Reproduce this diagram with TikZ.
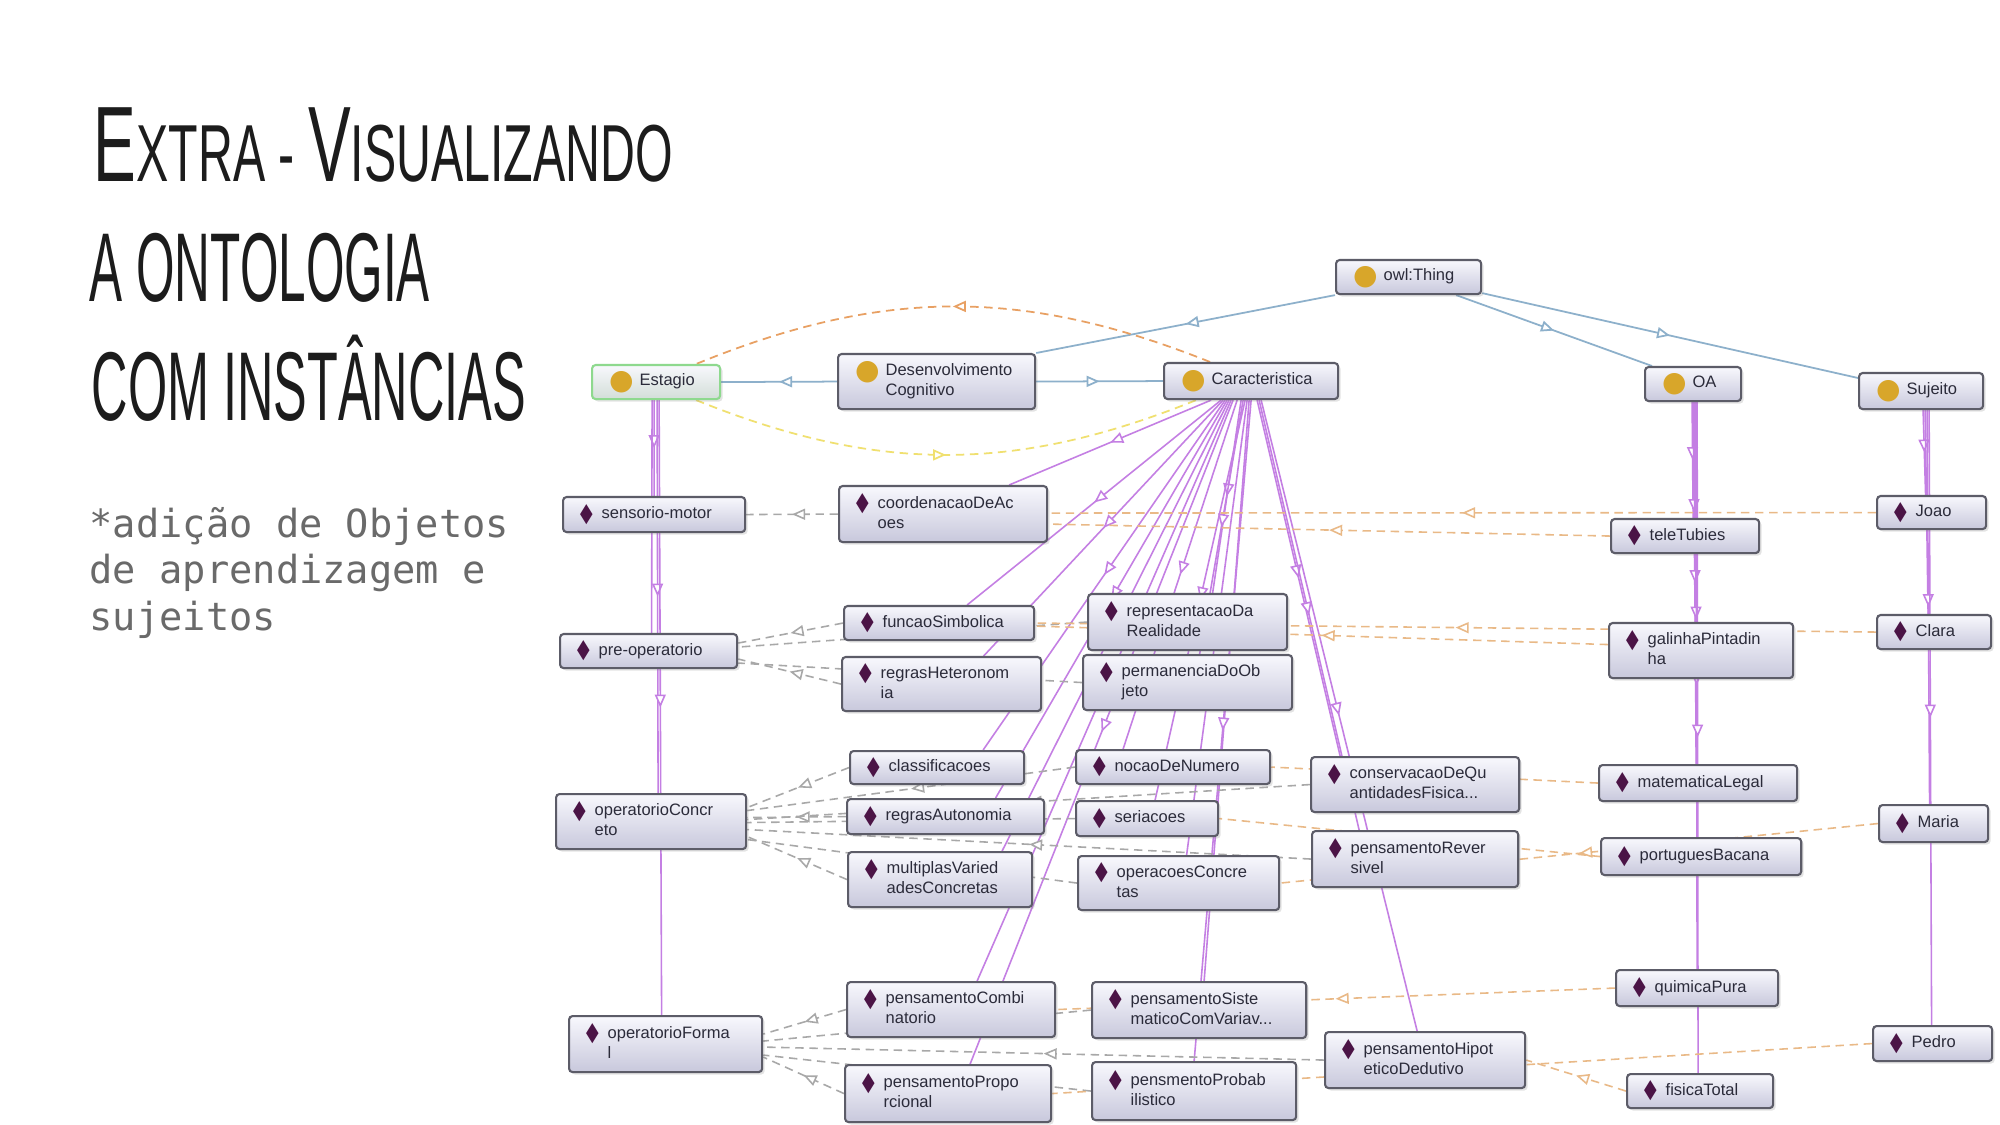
\documentclass[tikz,border=0pt]{standalone}
\usepackage{fontspec}
\usepackage{graphicx}
\usepackage{xcolor}
\usepackage{tikz}
\usetikzlibrary{arrows.meta,calc,decorations.markings,shadows,backgrounds}
\newfontfamily\nodefont{Liberation Sans}
\newfontfamily\symfont{DejaVu Sans}
\newfontfamily\titlefont{Liberation Sans}
\newfontfamily\subfont{DejaVu Sans Mono}
\definecolor{boxline}{HTML}{5C5C68}
\definecolor{boxtop}{HTML}{F8F8FD}
\definecolor{boxbot}{HTML}{C8C8DC}
\definecolor{stagegreen}{HTML}{8ED98E}
\definecolor{stagebot}{HTML}{D3DED8}
\definecolor{nodetext}{HTML}{2B2B3A}
\definecolor{clsdot}{HTML}{D8A62A}
\definecolor{inddia}{HTML}{4B1446}
\definecolor{isablue}{HTML}{8DB0CB}
\definecolor{indpurple}{HTML}{C47FE3}
\definecolor{propgray}{HTML}{A8A8A8}
\definecolor{proporange}{HTML}{E9B987}
\definecolor{rangeorange}{HTML}{E8A063}
\definecolor{domyellow}{HTML}{F0E070}
\definecolor{titlecol}{HTML}{1C1C1C}
\definecolor{subgray}{HTML}{6A6A6A}
\newcommand{\smallcap}[1]{{\fontsize{23}{23}\selectfont #1}}
\newcommand{\indmark}{\textcolor{inddia}{\raisebox{-.8pt}{\scalebox{.62}[1]{\symfont\fontsize{7.5}{7.5}\selectfont ◆}}}\hspace{.09cm}}
\newcommand{\clsmark}{\textcolor{clsdot}{\raisebox{-1pt}{\symfont\fontsize{8}{8}\selectfont ●}}\hspace{.06cm}}
\newcommand{\two}[2]{\begin{tabular}[t]{@{}l@{}}#1\\#2\end{tabular}}
\newcommand{\indone}[1]{\mbox{\indmark#1}}
\newcommand{\indtwo}[2]{\mbox{\indmark\two{#1}{#2}}}
\newcommand{\clsone}[1]{\mbox{\clsmark#1}}
\newcommand{\clstwo}[2]{\mbox{\clsmark\two{#1}{#2}}}
\tikzset{
  ontobox/.style={
    rounded corners=1pt,draw=boxline,line width=.6pt,
    top color=boxtop,bottom color=boxbot,
    drop shadow={opacity=.22,shadow xshift=.7pt,shadow yshift=-.7pt},
    anchor=north west,inner xsep=.17cm,inner ysep=0pt,align=left,
    font={\nodefont\fontsize{4.7}{5.7}\selectfont},text=nodetext
  },
  clsbox/.style={ontobox},
  stagebox/.style={ontobox,draw=stagegreen,bottom color=stagebot},
  indbox/.style={ontobox},
  title/.style={anchor=base west,inner sep=0pt,text=titlecol,
    font={\titlefont\fontsize{30.5}{30.5}\selectfont}},
  bigtitle/.style={title,font={\titlefont\fontsize{27.8}{27.8}\selectfont}},
  subtitle/.style={anchor=base west,inner sep=0pt,text=subgray,
    font={\subfont\fontsize{11}{13}\selectfont}},
  midtip/.style={postaction={decorate},decoration={markings,
    mark=at position .5 with {\arrow{Triangle[length=.13cm,width=.11cm,fill=white]}}}},
  subcls/.style={draw=isablue,line width=.5pt,midtip},
  hasind/.style={draw=indpurple,line width=.45pt,midtip},
  stageprop/.style={draw=propgray,line width=.45pt,dash pattern=on 2.4pt off 1.6pt,midtip},
  oaprop/.style={draw=proporange,line width=.45pt,dash pattern=on 2.4pt off 1.6pt,midtip},
  rangeprop/.style={draw=rangeorange,line width=.5pt,dash pattern=on 2.4pt off 1.6pt,midtip},
  domprop/.style={draw=domyellow,line width=.5pt,dash pattern=on 2.4pt off 1.6pt,midtip}
}
\begin{document}
\begin{tikzpicture}[x=0.01cm,y=-0.01cm]
\useasboundingbox (0,0) rectangle (2000,1125);

\node[title] (t1) at (93,182) {\resizebox{5.79cm}{\height}{E\smallcap{XTRA - }V\smallcap{ISUALIZANDO}}};
\node[bigtitle] (t2) at (89,302) {\resizebox{3.40cm}{\height}{A ONTOLOGIA}};
\node[bigtitle] (t3) at (91,421) {\resizebox{4.34cm}{\height}{COM INSTÂNCIAS}};
\node[subtitle] (s1) at (89,538) {*adição de Objetos};
\node[subtitle] (s2) at (89,584) {de aprendizagem e};
\node[subtitle] (s3) at (89,630) {sujeitos};

\node[clsbox,text width=1.11cm,minimum height=.34cm] (thing) at (1335,259) {\clsone{owl:Thing}};
\node[stagebox,text width=0.94cm,minimum height=.34cm] (estagio) at (591,364) {\clsone{Estagio}};
\node[clsbox,text width=1.63cm,minimum height=.55cm] (devcog) at (837,353) {\clstwo{Desenvolvimento}{Cognitivo}};
\node[clsbox,text width=1.40cm,minimum height=.36cm] (carac) at (1163,362) {\clsone{Caracteristica}};
\node[clsbox,text width=0.62cm,minimum height=.34cm] (oa) at (1644,366) {\clsone{OA}};
\node[clsbox,text width=0.90cm,minimum height=.36cm] (sujeito) at (1858,372) {\clsone{Sujeito}};

\node[indbox,text width=1.48cm,minimum height=.35cm] (senso) at (562,496) {\indone{sensorio-motor}};
\node[indbox,text width=1.43cm,minimum height=.34cm] (preop) at (559,633) {\indone{pre-operatorio}};
\node[indbox,text width=1.56cm,minimum height=.55cm] (opconc) at (555,793) {\indtwo{operatorioConcr}{eto}};
\node[indbox,text width=1.59cm,minimum height=.56cm] (opform) at (568,1015) {\indtwo{operatorioForma}{l}};

\node[indbox,text width=1.74cm,minimum height=.56cm] (coord) at (838,485) {\indtwo{coordenacaoDeAc}{oes}};
\node[indbox,text width=1.56cm,minimum height=.34cm] (funcsimb) at (843,605) {\indone{funcaoSimbolica}};
\node[indbox,text width=1.65cm,minimum height=.56cm] (reprreal) at (1087,593) {\indtwo{representacaoDa}{Realidade}};
\node[indbox,text width=1.65cm,minimum height=.54cm] (regheter) at (841,656) {\indtwo{regrasHeteronom}{ia}};
\node[indbox,text width=1.75cm,minimum height=.55cm] (perman) at (1082,654) {\indtwo{permanenciaDoOb}{jeto}};
\node[indbox,text width=1.40cm,minimum height=.33cm] (classif) at (849,750) {\indone{classificacoes}};
\node[indbox,text width=1.60cm,minimum height=.34cm] (nocnum) at (1075,749) {\indone{nocaoDeNumero}};
\node[indbox,text width=1.74cm,minimum height=.55cm] (conserv) at (1310,756) {\indtwo{conservacaoDeQu}{antidadesFisica...}};
\node[indbox,text width=1.63cm,minimum height=.35cm] (regauto) at (846,798) {\indone{regrasAutonomia}};
\node[indbox,text width=1.08cm,minimum height=.35cm] (seriac) at (1075,800) {\indone{seriacoes}};
\node[indbox,text width=1.72cm,minimum height=.56cm] (pensrev) at (1311,830) {\indtwo{pensamentoRever}{sivel}};
\node[indbox,text width=1.50cm,minimum height=.55cm] (multvar) at (847,851) {\indtwo{multiplasVaried}{adesConcretas}};
\node[indbox,text width=1.67cm,minimum height=.54cm] (opercon) at (1077,855) {\indtwo{operacoesConcre}{tas}};
\node[indbox,text width=1.74cm,minimum height=.55cm] (pcomb) at (846,981) {\indtwo{pensamentoCombi}{natorio}};
\node[indbox,text width=1.80cm,minimum height=.56cm] (psist) at (1091,981) {\indtwo{pensamentoSiste}{maticoComVariav...}};
\node[indbox,text width=1.66cm,minimum height=.56cm] (phip) at (1324,1031) {\indtwo{pensamentoHipot}{eticoDedutivo}};
\node[indbox,text width=1.72cm,minimum height=.57cm] (pprop) at (844,1064) {\indtwo{pensamentoPropo}{rcional}};
\node[indbox,text width=1.70cm,minimum height=.58cm] (pprob) at (1091,1061) {\indtwo{pensmentoProbab}{ilistico}};

\node[indbox,text width=1.14cm,minimum height=.34cm] (tele) at (1610,518) {\indone{teleTubies}};
\node[indbox,text width=1.50cm,minimum height=.55cm] (galinha) at (1608,622) {\indtwo{galinhaPintadin}{ha}};
\node[indbox,text width=1.64cm,minimum height=.36cm] (matleg) at (1598,764) {\indone{matematicaLegal}};
\node[indbox,text width=1.66cm,minimum height=.37cm] (portbac) at (1600,837) {\indone{portuguesBacana}};
\node[indbox,text width=1.28cm,minimum height=.36cm] (quim) at (1615,969) {\indone{quimicaPura}};
\node[indbox,text width=1.12cm,minimum height=.34cm] (fisica) at (1626,1073) {\indone{fisicaTotal}};

\node[indbox,text width=0.75cm,minimum height=.33cm] (joao) at (1876,495) {\indone{Joao}};
\node[indbox,text width=0.80cm,minimum height=.34cm] (clara) at (1876,614) {\indone{Clara}};
\node[indbox,text width=0.75cm,minimum height=.37cm] (maria) at (1878,804) {\indone{Maria}};
\node[indbox,text width=0.85cm,minimum height=.35cm] (pedro) at (1872,1025) {\indone{Pedro}};

\begin{scope}[on background layer]
\fill[white] (0,0) rectangle (2000,1125);

\draw[subcls] (thing.south west) -- (devcog.north east);
\draw[subcls] ($(thing.south east)+(-26,0)$) -- ($(oa.north west)+(8,0)$);
\draw[subcls] ($(thing.south east)+(0,-2)$) -- ($(sujeito.north west)+(0,6)$);
\draw[subcls] (devcog.west) -- (estagio.east);
\draw[subcls] (devcog.east) -- (carac.west);

\draw[rangeprop] ($(carac.north)+(-41,0)$) to[bend right=22] ($(estagio.north)+(40,0)$);
\draw[domprop] ($(estagio.south)+(40,0)$) to[bend right=22] ($(carac.south)+(-55,0)$);

\draw[hasind] ($(estagio.south)+(-2,0)$) -- (senso.north);
\draw[hasind] ($(estagio.south)+(-4,0)$) -- ($(preop.north)+(3,0)$);
\draw[hasind] ($(estagio.south)+(1,0)$) -- ($(opconc.north)+(7,0)$);
\draw[hasind] ($(estagio.south)+(3,0)$) -- ($(opform.north)+(-4,0)$);

\draw[hasind] ($(carac.south)+(-40,0)$) -- ($(coord.north)+(66,0)$);
\draw[hasind] ($(carac.south)+(-30,0)$) -- ($(funcsimb.north)+(28,0)$);
\draw[hasind] ($(carac.south)+(-28,0)$) -- ($(regheter.north)+(42,0)$);
\draw[hasind] ($(carac.south)+(-26,0)$) -- ($(classif.north)+(46,0)$);
\draw[hasind] ($(carac.south)+(-24,0)$) -- ($(regauto.north)+(50,0)$);
\draw[hasind] ($(carac.south)+(-22,0)$) -- ($(multvar.north)+(62,0)$);
\draw[hasind] ($(carac.south)+(-20,0)$) -- ($(pcomb.north)+(26,0)$);
\draw[hasind] ($(carac.south)+(-18,0)$) -- ($(pprop.north)+(22,0)$);
\draw[hasind] ($(carac.south)+(-14,0)$) -- ($(nocnum.north)+(-50,0)$);
\draw[hasind] ($(carac.south)+(-10,0)$) -- ($(reprreal.north)+(25,0)$);
\draw[hasind] ($(carac.south)+(-8,0)$) -- ($(perman.north)+(12,0)$);
\draw[hasind] ($(carac.south)+(-6,0)$) -- ($(seriac.north)+(8,0)$);
\draw[hasind] ($(carac.south)+(-4,0)$) -- ($(opercon.north)+(8,0)$);
\draw[hasind] ($(carac.south)+(-2,0)$) -- ($(psist.north)+(5,0)$);
\draw[hasind] (carac.south) -- (pprob.north);
\draw[hasind] ($(carac.south)+(6,0)$) -- ($(conserv.north)+(-75,0)$);
\draw[hasind] ($(carac.south)+(8,0)$) -- ($(pensrev.north)+(-56,0)$);
\draw[hasind] ($(carac.south)+(10,0)$) -- ($(phip.north)+(-8,0)$);

\draw[hasind] ($(oa.south)+(-1,0)$) -- ($(tele.north)+(8,0)$);
\draw[hasind] (oa.south) -- ($(galinha.north)+(-6,0)$);
\draw[hasind] ($(oa.south)+(1,0)$) -- ($(matleg.north)+(-2,0)$);
\draw[hasind] ($(oa.south)+(2,0)$) -- ($(portbac.north)+(-4,0)$);
\draw[hasind] ($(oa.south)+(3,0)$) -- (quim.north);
\draw[hasind] ($(oa.south)+(4,0)$) -- ($(fisica.north)+(-2,0)$);

\draw[hasind] ($(sujeito.south)+(2,0)$) -- ($(joao.north)+(-6,0)$);
\draw[hasind] ($(sujeito.south)+(4,0)$) -- ($(clara.north)+(-6,0)$);
\draw[hasind] ($(sujeito.south)+(6,0)$) -- ($(maria.north)+(-4,0)$);
\draw[hasind] ($(sujeito.south)+(8,0)$) -- ($(pedro.north)+(-1,0)$);

\draw[stageprop] (coord.west) -- (senso.east);
\draw[stageprop] (funcsimb.west) -- ($(preop.east)+(0,-8)$);
\draw[stageprop] (reprreal.west) -- ($(preop.east)+(0,-4)$);
\draw[stageprop] (regheter.west) -- ($(preop.east)+(0,8)$);
\draw[stageprop] (perman.west) -- ($(preop.east)+(0,12)$);
\draw[stageprop] (classif.west) -- ($(opconc.east)+(0,-14)$);
\draw[stageprop] (nocnum.west) -- ($(opconc.east)+(0,-11)$);
\draw[stageprop] (regauto.west) -- ($(opconc.east)+(0,-4)$);
\draw[stageprop] (conserv.west) -- ($(opconc.east)+(0,-2)$);
\draw[stageprop] (seriac.west) -- ($(opconc.east)+(0,1)$);
\draw[stageprop] (pensrev.west) -- ($(opconc.east)+(0,8)$);
\draw[stageprop] (multvar.west) -- ($(opconc.east)+(0,15)$);
\draw[stageprop] (opercon.west) -- ($(opconc.east)+(0,18)$);
\draw[stageprop] (pcomb.west) -- ($(opform.east)+(0,-10)$);
\draw[stageprop] (psist.west) -- ($(opform.east)+(0,-3)$);
\draw[stageprop] (phip.west) -- ($(opform.east)+(0,3)$);
\draw[stageprop] (pprob.west) -- ($(opform.east)+(0,11)$);
\draw[stageprop] (pprop.west) -- ($(opform.east)+(0,13)$);

\draw[oaprop] (joao.west) -- ($(coord.east)+(0,-1)$);
\draw[oaprop] (tele.west) -- ($(coord.east)+(0,10)$);
\draw[oaprop] (clara.west) -- (funcsimb.east);
\draw[oaprop] ($(galinha.west)+(0,-6)$) -- ($(funcsimb.east)+(0,3)$);
\draw[oaprop] (matleg.west) -- (nocnum.east);
\draw[oaprop] (portbac.west) -- (seriac.east);
\draw[oaprop] (maria.west) -- (opercon.east);
\draw[oaprop] (quim.west) -- (pcomb.east);
\draw[oaprop] (pedro.west) -- (pprop.east);
\draw[oaprop] (fisica.west) -- (phip.east);
\end{scope}
\end{tikzpicture}
\end{document}
